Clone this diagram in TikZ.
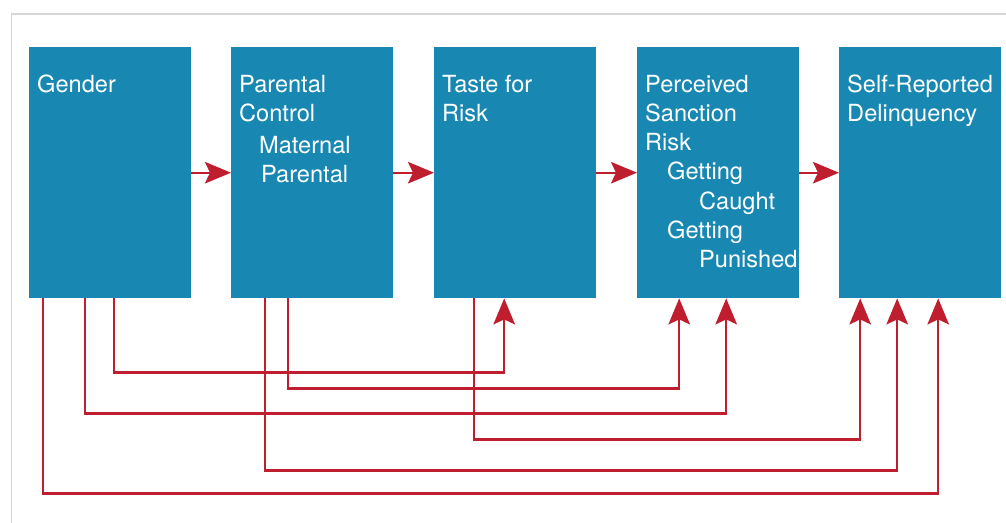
\documentclass[tikz,border=0pt]{standalone}
\usepackage{fontspec}
\setmainfont{TeX Gyre Heros}
\usetikzlibrary{arrows.meta,positioning}
\definecolor{boxblue}{RGB}{24,136,179}
\definecolor{linkred}{RGB}{190,30,45}
\definecolor{framegray}{RGB}{214,214,214}
\tikzset{
	factor/.style={fill=boxblue,minimum width=162pt,minimum height=251pt,inner sep=0pt,anchor=north west},
	factortext/.style={text=white,align=left,inner sep=0pt,anchor=north west,font=\fontsize{23.6}{29.3}\selectfont},
	link/.style={draw=linkred,line width=2.4pt,-{Stealth[length=26pt,width=21.5pt,inset=5pt]}},
	path/.style={draw=linkred,line width=2.4pt,-{Stealth[length=26pt,width=21.5pt,inset=5pt]}},
}

\begin{document}
\begin{tikzpicture}[x=1pt,y=-1pt]
	\useasboundingbox (0,0) rectangle (1006,522);
	\draw[framegray,line width=1.5pt] (11.5,530) -- (11.5,14) -- (1010,14);
	
	\node (gen) at (29,47) [factor] {};
	\node (pc) at (231,47) [factor] {};
	\node (tfr) at (434,47) [factor] {};
	\node (psr) at (637,47) [factor] {};
	\node (srd) at (839,47) [factor] {};
	
	\node (gent) at ([shift={(8pt,-27.6pt)}]gen.north west) [factortext] {Gender};
	\node (pct) at ([shift={(8pt,-27.6pt)}]pc.north west) [factortext] {Parental\\Control\\[2.7pt]\hspace{20pt}Maternal\\\hspace{22pt}Parental};
	\node (tfrt) at ([shift={(8pt,-27.6pt)}]tfr.north west) [factortext] {Taste for\\Risk};
	\node (psrt) at ([shift={(8pt,-27.6pt)}]psr.north west) [factortext] {Perceived\\Sanction\\Risk\\\hspace{22pt}Getting\\\hspace{54pt}Caught\\\hspace{22pt}Getting\\\hspace{54pt}Punished};
	\node (srdt) at ([shift={(8pt,-27.6pt)}]srd.north west) [factortext] {Self-Reported\\Delinquency};
	
	% chain
	\draw[link] (gen.east) -- (pc.west);
	\draw[link] (pc.east) -- (tfr.west);
	\draw[link] (tfr.east) -- (psr.west);
	\draw[link] (psr.east) -- (srd.west);
	
	% direct paths below
	\draw[path] ([xshift=4pt]gen.south) -- ++(0,74) -| ([xshift=-11pt]tfr.south);
	\draw[path] ([xshift=-24pt]pc.south) -- ++(0,90) -| ([xshift=-39pt]psr.south);
	\draw[path] ([xshift=-25pt]gen.south) -- ++(0,115) -| ([xshift=8pt]psr.south);
	\draw[path] ([xshift=-41pt]tfr.south) -- ++(0,141) -| ([xshift=-60pt]srd.south);
	\draw[path] ([xshift=-47pt]pc.south) -- ++(0,172) -| ([xshift=-23pt]srd.south);
	\draw[path] ([xshift=-67pt]gen.south) -- ++(0,195) -| ([xshift=18pt]srd.south);
\end{tikzpicture}
\end{document}
